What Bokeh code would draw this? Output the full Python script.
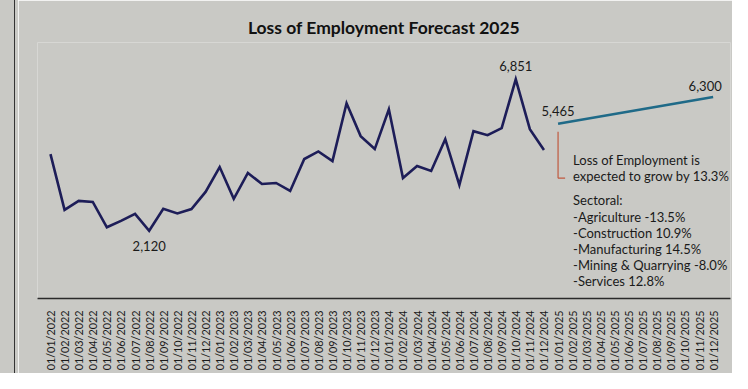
import math
from bokeh.plotting import figure
from bokeh.layouts import row
from bokeh.models import Range1d, FixedTicker, ColumnDataSource, Div
from bokeh.core.properties import value
from bokeh.embed import file_html
from bokeh.resources import INLINE

# ---------------- data ----------------
title_text = "Loss of Employment Forecast 2025"
months = [f"01/{m:02d}/{y}" for y in (2022, 2023, 2024, 2025) for m in range(1, 13)]

actual_months = months[:36]
actual_values = [4517, 2774, 3054, 3023, 2230, 2430, 2650, 2120, 2805, 2660, 2800, 3334,
                 4112, 3117, 3926, 3583, 3614, 3366, 4361, 4600, 4299, 6104, 5077, 4673,
                 5917, 3770, 4144, 3988, 4984, 3552, 5233, 5108, 5326, 6851, 5295, 4641]

forecast_months = ["01/01/2025", "01/12/2025"]
forecast_values = [5465, 6300]

growth_total = 13.3
sectors = ["Agriculture", "Construction", "Manufacturing", "Mining & Quarrying", "Services"]
sector_growth = [-13.5, 10.9, 14.5, -8.0, 12.8]

# ---------------- style ----------------
PAPER = "#c9c9c5"
INK = "#1a1a1a"
LINE = "#1d1d58"
FCAST = "#1f6a88"
RED = "#c0593f"
FONT = "Lato"

W, H = 732, 373
RULE_W = 18

ax = [months.index(m) for m in actual_months]
fx = [months.index(m) for m in forecast_months]

p = figure(width=W - RULE_W, height=H, output_backend="svg", toolbar_location=None,
           x_range=Range1d(-0.92, 48.23), y_range=Range1d(5, 8002),
           min_border_left=19, min_border_right=2, min_border_top=42, min_border_bottom=74,
           background_fill_color=PAPER, border_fill_color=PAPER, outline_line_color=None)

p.title.text = title_text
p.title.align = "center"
p.title.text_font = FONT
p.title.text_font_style = "bold"
p.title.text_font_size = "17.5px"
p.title.text_color = "#111111"
p.title.standoff = 10

p.grid.visible = False
p.yaxis.visible = False
xa = p.xaxis[0]
xa.ticker = FixedTicker(ticks=list(range(len(months))))
xa.major_label_overrides = {i: m for i, m in enumerate(months)}
xa.major_label_orientation = math.pi / 2
xa.major_label_text_font = FONT
xa.major_label_text_font_size = "10.8px"
xa.major_label_text_color = INK
xa.major_label_standoff = 6
xa.major_tick_line_color = None
xa.minor_tick_line_color = None
xa.axis_line_color = "#2a2a2a"
xa.axis_line_width = 1.5

# actual series
p.line(ax, actual_values, line_color=LINE, line_width=2.6, line_join="miter")
# forecast
p.line(fx, forecast_values, line_color=FCAST, line_width=2.6)

# value labels
i_max = actual_values.index(max(actual_values))
i_min = actual_values.index(min(actual_values))
lab = ColumnDataSource(dict(
    x=[ax[i_max], ax[i_min], fx[0], fx[1]],
    y=[actual_values[i_max], actual_values[i_min], forecast_values[0], forecast_values[1]],
    t=[f"{v:,}" for v in (actual_values[i_max], actual_values[i_min], forecast_values[0], forecast_values[1])],
    xo=[0, 0, 0, -8],
    yo=[-13, 15, -13, -11],
))
p.text(x="x", y="y", text="t", x_offset="xo", y_offset="yo", source=lab,
       text_font=value(FONT), text_font_size="13px", text_color=INK,
       text_align="center", text_baseline="middle")

# red bracket under forecast start
bx = fx[0]
top_v = forecast_values[0] - 250
bot_v = forecast_values[0] - 1700
p.segment(x0=[bx, bx], y0=[top_v, bot_v], x1=[bx, bx + 0.5], y1=[bot_v, bot_v],
          line_color=RED, line_width=1.2)

# note text
lines = ["Loss of Employment is", f"expected to grow by {growth_total}%", "Sectoral:"]
lines += [f"-{s} {g:.1f}%" for s, g in zip(sectors, sector_growth)]
offs = [36, 52, 76] + [93 + 16 * k for k in range(len(sectors))]
note = ColumnDataSource(dict(x=[bx] * len(lines), y=[forecast_values[0]] * len(lines),
                             t=lines, yo=offs))
p.text(x="x", y="y", text="t", y_offset="yo", x_offset=15, source=note,
       text_font=value(FONT), text_font_size="13px", text_color=INK,
       text_align="left", text_baseline="middle")

# column rule of the newspaper page
rule = Div(text="", width=RULE_W, height=H, margin=0,
           styles={"background": f"linear-gradient(to right, {PAPER} 14px, #333333 14px, "
                                 f"#333333 15.4px, {PAPER} 15.4px)",
                   "width": f"{RULE_W}px", "height": f"{H}px"})

layout = row(rule, p, spacing=0)
open("out.html", "w").write(file_html(layout, INLINE))
